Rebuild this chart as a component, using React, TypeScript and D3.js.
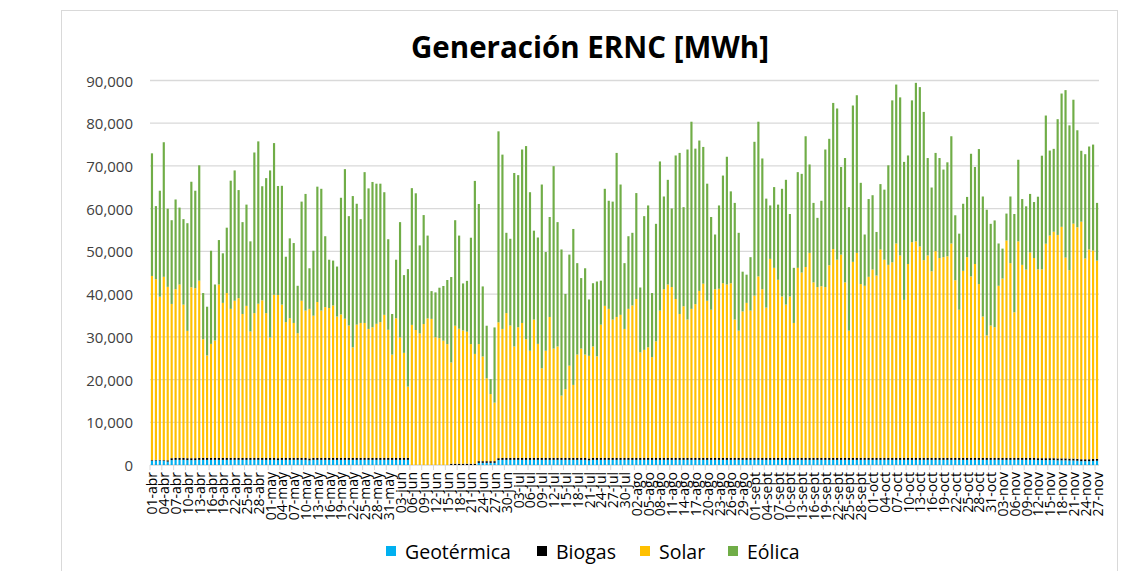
import * as d3 from "d3"

// Generación ERNC diaria [MWh], 01-abr a 27-nov
const fechaInicio = new Date(2020, 3, 1)
const fechaFin = new Date(2020, 10, 28)
const meses = ["ene", "feb", "mar", "abr", "may", "jun", "jul", "ago", "sept", "oct", "nov", "dic"]

const geotermica = [
  1000, 1050, 1050, 1000, 800, 1150, 1200, 1200, 1200, 1150,
  1150, 1150, 1200, 1200, 1200, 1200, 1200, 1200, 1200, 1200,
  1200, 1200, 1200, 1200, 1200, 1200, 1200, 1200, 1200, 1200,
  1200, 1200, 1150, 1200, 1200, 1200, 1200, 1200, 1200, 1200,
  1100, 1200, 1200, 1200, 1200, 1200, 1200, 1200, 1200, 1200,
  1200, 1200, 1200, 1200, 1200, 1200, 1200, 1200, 1200, 1200,
  1200, 1200, 1200, 1200, 1200, 1200, 0, 0, 0, 0,
  0, 0, 0, 0, 0, 0, 0, 0, 0, 0,
  0, 0, 0, 500, 500, 500, 500, 500, 1150, 1200,
  1200, 1200, 1200, 1200, 1200, 1200, 1200, 1200, 1200, 1200,
  1200, 1200, 1200, 1200, 1200, 1200, 1200, 1200, 1200, 1200,
  1200, 1100, 1200, 1200, 1200, 1200, 1200, 1200, 1200, 1200,
  1200, 1200, 1200, 1200, 1200, 1200, 1200, 1200, 1200, 1200,
  1200, 1200, 1200, 1200, 1200, 1200, 1200, 1200, 1200, 1200,
  1200, 1200, 1200, 1200, 1200, 1200, 1200, 1200, 1200, 1200,
  1200, 1200, 1200, 1200, 1200, 1200, 1200, 1200, 1200, 1200,
  1200, 1200, 1200, 1200, 1200, 1200, 1200, 1200, 1200, 1200,
  1200, 1200, 1200, 1200, 1200, 1200, 1200, 1200, 1200, 1200,
  1200, 1200, 1200, 1200, 1200, 1200, 1200, 1200, 1200, 1200,
  1200, 1200, 1200, 1200, 1200, 1200, 1200, 1200, 1200, 1200,
  1200, 1200, 1200, 1200, 1200, 1200, 1200, 1200, 1200, 1200,
  1200, 1200, 1200, 1200, 1200, 1200, 1200, 1200, 1200, 1200,
  1200, 1200, 1200, 1200, 1200, 1150, 1150, 1150, 1150, 1150,
  1100, 1100, 1100, 1050, 1050, 1000, 900, 900, 900, 950,
  1000,
]

const biogas = [
  150, 150, 150, 150, 300, 450, 450, 450, 450, 450,
  450, 450, 450, 450, 450, 450, 450, 450, 450, 450,
  450, 450, 450, 450, 450, 450, 450, 450, 450, 450,
  450, 450, 450, 450, 450, 450, 450, 450, 450, 450,
  450, 450, 450, 450, 450, 450, 450, 450, 450, 450,
  450, 450, 450, 450, 450, 450, 450, 450, 450, 450,
  450, 450, 450, 450, 450, 450, 0, 0, 0, 0,
  0, 0, 0, 0, 0, 0, 300, 300, 300, 300,
  300, 300, 300, 400, 400, 400, 400, 400, 450, 450,
  450, 450, 450, 450, 450, 450, 450, 450, 450, 450,
  450, 450, 450, 450, 450, 450, 450, 450, 450, 450,
  450, 450, 450, 450, 450, 450, 450, 450, 450, 450,
  450, 450, 450, 450, 450, 450, 450, 450, 450, 450,
  450, 450, 450, 450, 450, 450, 450, 450, 450, 450,
  450, 450, 450, 450, 450, 450, 450, 450, 450, 450,
  450, 450, 450, 450, 450, 450, 450, 450, 450, 450,
  450, 450, 450, 450, 450, 450, 450, 450, 450, 450,
  450, 450, 450, 450, 450, 450, 450, 450, 450, 450,
  450, 450, 450, 450, 450, 450, 450, 450, 450, 450,
  450, 450, 450, 450, 450, 450, 450, 450, 450, 450,
  450, 450, 450, 450, 450, 450, 450, 450, 450, 450,
  450, 450, 450, 450, 450, 450, 450, 450, 450, 450,
  450, 450, 450, 450, 450, 450, 450, 450, 450, 450,
  450, 450, 450, 450, 450, 450, 450, 450, 450, 450,
  450,
]

const solar = [
  43100, 42300, 38200, 42900, 40600, 36100, 39500, 40600, 35900, 29800,
  40000, 39800, 41500, 27800, 24000, 26700, 27500, 40600, 36300, 38600,
  34900, 36800, 37400, 33700, 35600, 29600, 33900, 36100, 36900, 33900,
  28200, 38200, 38200, 35900, 31800, 32700, 31600, 29200, 36800, 34500,
  35000, 33300, 36500, 34500, 35300, 35100, 35700, 33100, 33600, 32600,
  31000, 25900, 31200, 31600, 31600, 30200, 30600, 31400, 31800, 33500,
  30000, 24200, 32700, 28200, 24600, 16700, 32800, 31600, 30800, 33000,
  34300, 34200, 29900, 29700, 29100, 28300, 23700, 32300, 31600, 31200,
  30900, 28000, 25700, 27400, 24500, 19400, 15700, 13700, 31800, 30200,
  33900, 31000, 26100, 30600, 31600, 27800, 25100, 32400, 26700, 21000,
  25100, 33000, 25600, 26100, 14600, 16100, 21600, 17100, 24200, 25600,
  24200, 24000, 26100, 23800, 31200, 35600, 34900, 32400, 33000, 33500,
  30200, 34900, 35700, 37200, 24700, 25300, 25900, 23600, 27300, 34500,
  39500, 40600, 40000, 37200, 33700, 35500, 32400, 34900, 36000, 39100,
  40800, 36800, 34700, 39500, 39600, 40900, 40600, 40900, 32400, 29800,
  34300, 36300, 34500, 38000, 42500, 39500, 35200, 46600, 44500, 41700,
  37800, 35900, 37800, 31600, 44500, 43400, 44700, 48000, 41100, 40000,
  40200, 40000, 45100, 48900, 46400, 47600, 41100, 29800, 45900, 48000,
  40700, 40300, 42400, 44100, 42700, 48800, 46400, 45200, 45800, 50200,
  47400, 37000, 45400, 50500, 50700, 49500, 46300, 47400, 43700, 48400,
  46800, 47000, 47200, 50200, 41600, 34700, 43800, 47000, 42500, 45400,
  40700, 33100, 28700, 31000, 30600, 40300, 42000, 50900, 45600, 34100,
  50700, 45200, 44100, 48100, 46800, 44200, 44200, 50200, 52100, 53000,
  52300, 54200, 47000, 44100, 55000, 54200, 55600, 47000, 49100, 48800,
  46400,
]

const eolica = [
  28700, 17100, 24800, 31500, 18300, 19600, 21000, 18000, 20000, 25200,
  24700, 22800, 27000, 10800, 11400, 21800, 13100, 10400, 11600, 15300,
  30000, 30500, 25300, 21500, 23700, 21100, 37600, 38000, 26700, 31600,
  39100, 35500, 25500, 27800, 15300, 18700, 18700, 11100, 23200, 27300,
  9500, 15200, 27000, 28500, 16600, 11300, 10500, 11700, 27300, 35000,
  25600, 35400, 28300, 24300, 35300, 32900, 34000, 32800, 32400, 28700,
  21200, 9500, 13700, 27000, 18200, 27500, 32000, 32000, 20600, 25500,
  19400, 6500, 10500, 11800, 12800, 15000, 20000, 24700, 21800, 11000,
  11900, 24900, 40500, 32800, 16400, 12300, 3500, 17600, 44700, 40800,
  18800, 20300, 40600, 35600, 40600, 45200, 37100, 20800, 24900, 43000,
  23100, 23400, 42700, 29100, 34200, 22300, 26000, 36500, 21400, 16500,
  20200, 13200, 14800, 17500, 10300, 27400, 25300, 27600, 38400, 30500,
  15400, 17000, 17000, 24800, 15200, 31300, 33200, 15000, 27500, 34900,
  21700, 24500, 18400, 33600, 37700, 23200, 39800, 43800, 36400, 35200,
  32000, 27400, 21700, 12800, 19500, 25200, 29900, 21500, 27300, 22900,
  9300, 6600, 12500, 36000, 36200, 30600, 25500, 12500, 18900, 17600,
  25200, 29200, 19300, 12900, 22400, 23100, 30600, 20700, 18600, 16200,
  20000, 32200, 29600, 34200, 35400, 20500, 29100, 28900, 36600, 36900,
  23700, 12000, 18200, 17400, 10200, 15300, 16400, 23300, 37900, 37200,
  37000, 32300, 25400, 33200, 37100, 37300, 34700, 22800, 19600, 23000,
  23400, 20500, 22000, 25100, 15200, 17800, 15700, 14100, 28700, 22700,
  31600, 28100, 29400, 23800, 25000, 9900, 7000, 6300, 15600, 23000,
  19100, 15400, 14800, 13700, 13100, 17000, 26600, 30000, 19900, 19400,
  27100, 31200, 39200, 33900, 29000, 22700, 16600, 24400, 24100, 24800,
  13500,
]

const series = [
  { key: "geotermica", name: "Geotérmica", color: "#00B0F0" },
  { key: "biogas", name: "Biogas", color: "#000000" },
  { key: "solar", name: "Solar", color: "#FFC000" },
  { key: "eolica", name: "Eólica", color: "#70AD47" },
]

const W = 1138
const H = 571
const m = { left: 150, right: 1099, top: 80.5, bottom: 465 }
const font = "'Open Sans', 'Liberation Sans', sans-serif"
const textColor = "#404040"
const gridColor = "#d9d9d9"

// legend: x of each swatch
const legendX = [386, 537, 640, 728]

export default function App() {
  const dias = d3.timeDay.range(fechaInicio, fechaFin)
  const etiquetas = dias.map((d) => `${d3.timeFormat("%d")(d)}-${meses[d.getMonth()]}`)

  const table = etiquetas.map((fecha, i) => ({
    fecha,
    geotermica: geotermica[i],
    biogas: biogas[i],
    solar: solar[i],
    eolica: eolica[i],
  }))

  const stacked = d3.stack<(typeof table)[number]>().keys(series.map((s) => s.key))(table)

  const x = d3
    .scaleBand<string>()
    .domain(etiquetas)
    .range([m.left, m.right])
    .paddingInner(0.45)
    .paddingOuter(0.225)

  const y = d3.scaleLinear().domain([0, 90000]).range([m.bottom, m.top])
  const fmt = d3.format(",")
  const step = x.step()

  return (
    <svg
      width={W}
      height={H}
      style={{ position: "absolute", left: 0, top: 0, background: "#fff" }}
      fontFamily={font}
    >
      <rect x={61.5} y={10.5} width={1056} height={600} fill="#fff" stroke={gridColor} />

      <text x={590} y={58} textAnchor="middle" fontSize={29.5} fontWeight="bold" fill="#000">
        Generación ERNC [MWh]
      </text>

      {y.ticks(9).map((t) => (
        <g key={t}>
          <line x1={m.left} x2={m.right} y1={y(t)} y2={y(t)} stroke={gridColor} strokeWidth={1.3} />
          <text
            x={133}
            y={y(t)}
            textAnchor="end"
            dominantBaseline="central"
            fontSize={15}
            fill={textColor}
          >
            {fmt(t)}
          </text>
        </g>
      ))}

      {stacked.map((layer, si) => (
        <g key={layer.key} fill={series[si].color}>
          {layer.map((d) => (
            <rect
              key={d.data.fecha}
              x={x(d.data.fecha)}
              width={x.bandwidth()}
              y={y(d[1])}
              height={Math.max(0, y(d[0]) - y(d[1]))}
            />
          ))}
        </g>
      ))}

      {etiquetas.map((e, i) =>
        i % 3 === 0 ? (
          <g key={e}>
            <line
              x1={(x(e) ?? 0) - step * 0.225}
              x2={(x(e) ?? 0) - step * 0.225}
              y1={m.bottom}
              y2={m.bottom + 5}
              stroke={gridColor}
            />
            <text
              transform={`translate(${(x(e) ?? 0) + x.bandwidth() / 2},${m.bottom + 7}) rotate(-90)`}
              textAnchor="end"
              dominantBaseline="central"
              fontSize={14}
              fill="#000"
            >
              {e}
            </text>
          </g>
        ) : null,
      )}

      {series.map((s, i) => (
        <g key={s.key} transform={`translate(${legendX[i]},551)`}>
          <rect x={0} y={-5} width={10} height={10} fill={s.color} />
          <text x={19} y={0} dominantBaseline="central" fontSize={19.5} fill="#000">
            {s.name}
          </text>
        </g>
      ))}
    </svg>
  )
}
